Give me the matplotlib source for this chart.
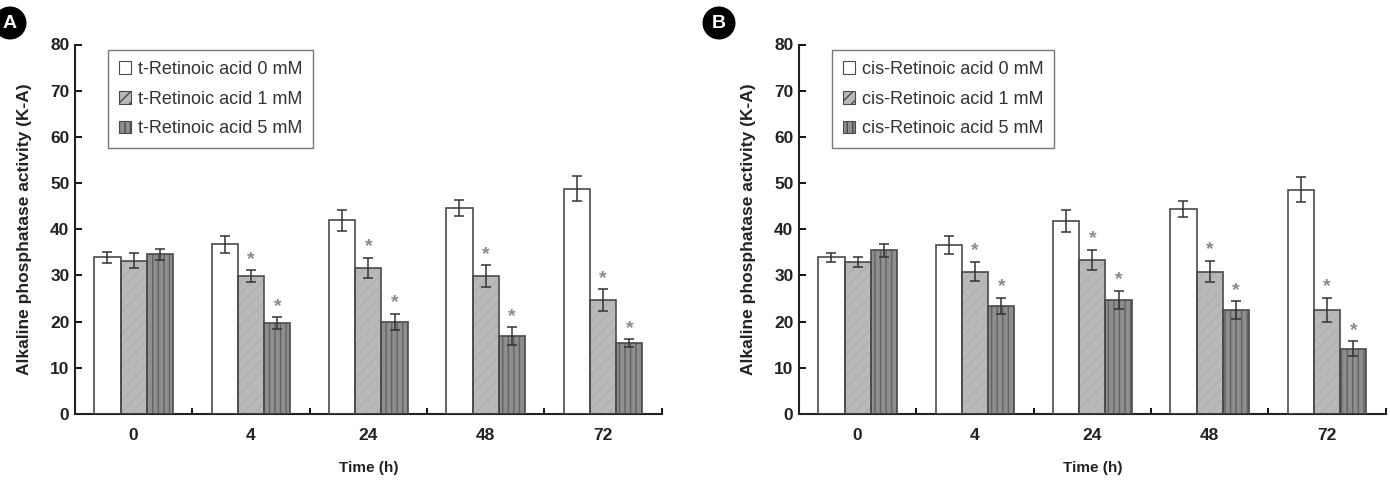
import numpy as np
import matplotlib
matplotlib.use('Agg')
from matplotlib import pyplot as plt
from matplotlib.patches import Patch, Ellipse

plt.rcParams['font.family'] = ['Liberation Sans', 'DejaVu Sans']

# datos
tiempos = ['0', '4', '24', '48', '72']

a_0mM = [33.9, 36.7, 41.9, 44.6, 48.8]
a_0mM_err = [1.2, 1.9, 2.3, 1.8, 2.7]
a_1mM = [33.2, 29.8, 31.6, 29.8, 24.7]
a_1mM_err = [1.6, 1.3, 2.2, 2.4, 2.3]
a_5mM = [34.6, 19.6, 19.9, 16.9, 15.3]
a_5mM_err = [1.2, 1.3, 1.8, 1.9, 0.9]

b_0mM = [33.9, 36.6, 41.8, 44.4, 48.6]
b_0mM_err = [0.9, 1.9, 2.3, 1.7, 2.7]
b_1mM = [32.9, 30.8, 33.4, 30.8, 22.5]
b_1mM_err = [1.1, 2.1, 2.2, 2.3, 2.6]
b_5mM = [35.4, 23.4, 24.7, 22.5, 14.1]
b_5mM_err = [1.3, 1.7, 1.9, 1.9, 1.6]

etiquetasA = ['t-Retinoic acid 0 mM', 't-Retinoic acid 1 mM', 't-Retinoic acid 5 mM']
etiquetasB = ['cis-Retinoic acid 0 mM', 'cis-Retinoic acid 1 mM', 'cis-Retinoic acid 5 mM']

# estilos: (relleno, trama, color de trama)
estilos = [('white', None, 'white'),
           ('#b9b9b9', '///', '#afafaf'),
           ('#8e8e8e', '|||', '#626262')]
borde = '#4a4a4a'


def panel(ax, series, errores, etiquetas):
    x = np.arange(len(tiempos))
    w = 0.224
    for k, (vals, errs) in enumerate(zip(series, errores)):
        fc, hatch, hc = estilos[k]
        pos = x + (k - 1) * w
        ax.bar(pos, vals, w, color=fc, hatch=hatch, edgecolor=hc, linewidth=0, zorder=2)
        ax.bar(pos, vals, w, fill=False, edgecolor=borde, linewidth=1.2, zorder=3)
        ax.errorbar(pos, vals, yerr=errs, fmt='none', ecolor='#333333',
                    elinewidth=1.1, capsize=3.5, capthick=1.1, zorder=4)
        if k > 0:
            for i in range(1, len(tiempos)):
                ax.text(pos[i], vals[i] + errs[i] + 2.4, '*', ha='center', va='center',
                        fontsize=14, color='#8a8a8a', fontweight='bold', zorder=5)

    ax.set_xlim(-0.5, len(tiempos) - 0.5)
    ax.set_ylim(0, 80)
    ax.set_yticks(range(0, 81, 10))
    ax.set_xticks(x)
    ax.set_xticklabels(tiempos)
    ax.set_xticks(np.arange(0.5, len(tiempos), 1.0), minor=True)
    ax.tick_params(axis='x', which='major', length=0, pad=10, labelsize=12.5)
    ax.tick_params(axis='x', which='minor', direction='in', length=4, width=1.3)
    ax.tick_params(axis='y', direction='in', length=5, width=1.3, pad=4, labelsize=12.5)
    for lab in ax.get_xticklabels() + ax.get_yticklabels():
        lab.set_fontweight('bold')
        lab.set_color('#222222')
    for s in ['top', 'right']:
        ax.spines[s].set_visible(False)
    for s in ['left', 'bottom']:
        ax.spines[s].set_linewidth(1.5)
        ax.spines[s].set_color('#222222')

    ax.set_ylabel('Alkaline phosphatase activity (K-A)', fontsize=12.5, fontweight='bold',
                  color='#222222', labelpad=13)
    ax.set_xlabel('Time (h)', fontsize=11, fontweight='bold', color='#222222', labelpad=13)

    handles = [Patch(facecolor=estilos[k][0], hatch=estilos[k][1], edgecolor=borde, linewidth=0.8)
               for k in range(3)]
    leg = ax.legend(handles, etiquetas, loc='upper left', bbox_to_anchor=(0.056, 0.985),
                    fontsize=13, frameon=True, fancybox=False, handlelength=0.7,
                    handleheight=0.7, handletextpad=0.35, labelspacing=0.7,
                    borderpad=0.6, borderaxespad=0)
    leg.get_frame().set_edgecolor('#555555')
    leg.get_frame().set_linewidth(1.0)
    for t in leg.get_texts():
        t.set_color('#333333')


fig = plt.figure(figsize=(13.9, 4.84), dpi=100)
axA = fig.add_axes([75 / 1390, 1 - 414 / 484, 586.7 / 1390, 369.5 / 484])
axB = fig.add_axes([799 / 1390, 1 - 414 / 484, 586.7 / 1390, 369.5 / 484])

panel(axA, [a_0mM, a_1mM, a_5mM], [a_0mM_err, a_1mM_err, a_5mM_err], etiquetasA)
panel(axB, [b_0mM, b_1mM, b_5mM], [b_0mM_err, b_1mM_err, b_5mM_err], etiquetasB)

# etiquetas de panel A y B (el circulo de la A queda pegado al borde, como en el original)
for cx, letra in [(10, 'A'), (719, 'B')]:
    fig.patches.append(Ellipse((cx / 1390, 1 - 23 / 484), 33 / 1390, 33 / 484,
                               transform=fig.transFigure, facecolor='black', edgecolor='none'))
    fig.text(cx / 1390, 1 - 23 / 484, letra, color='white', fontsize=14, fontweight='bold',
             ha='center', va='center')

fig.savefig('out.png', dpi=100)
